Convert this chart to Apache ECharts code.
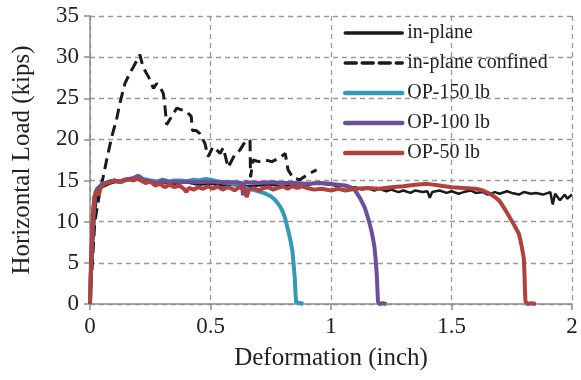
<!DOCTYPE html>
<html>
<head>
<meta charset="utf-8">
<script src="https://cdn.jsdelivr.net/npm/echarts@6/dist/echarts.min.js"></script>
<style>
  html, body { margin: 0; padding: 0; background: #fff; }
  #chart { width: 581px; height: 380px; }
</style>
</head>
<body>
<div id="chart"></div>
<script>
// [deformation (inch), horizontal load (kips)]
const inPlane = [
  [0, 0], [0.01, 6], [0.02, 11], [0.03, 13.5], [0.05, 14.2], [0.08, 14.6], [0.1, 14.8],
  [0.15, 15], [0.2, 15.2], [0.25, 15], [0.3, 14.8], [0.35, 14.6], [0.4, 14.8], [0.45, 14.5],
  [0.5, 14.6], [0.55, 14.4], [0.6, 14.5], [0.65, 14.3], [0.7, 14.4], [0.75, 14.5], [0.8, 14.3],
  [0.85, 14.5], [0.88, 14.6], [0.9, 14.4], [0.93, 14.7], [0.96, 14.6], [1.0, 14.5], [1.03, 14.3],
  [1.05, 14.4], [1.08, 14.1], [1.1, 14.2], [1.13, 13.9], [1.15, 14.1], [1.18, 13.8], [1.2, 14.0],
  [1.23, 13.7], [1.25, 13.9], [1.28, 13.6], [1.3, 13.8], [1.33, 13.5], [1.35, 13.8], [1.38, 13.6],
  [1.4, 13.7], [1.41, 12.9], [1.42, 13.6], [1.45, 13.8], [1.48, 13.5], [1.5, 13.7], [1.53, 13.4],
  [1.55, 13.6], [1.58, 13.8], [1.6, 13.5], [1.63, 13.6], [1.65, 13.3], [1.68, 13.6], [1.7, 13.4],
  [1.73, 13.7], [1.75, 13.5], [1.78, 13.3], [1.8, 13.6], [1.83, 13.4], [1.85, 13.5], [1.88, 13.3],
  [1.9, 13.5], [1.91, 13.6], [1.92, 12.1], [1.93, 13.4], [1.95, 12.6], [1.97, 13.3], [1.98, 12.8],
  [2.0, 13.3]
]

const inPlaneConfined = [
  [0, 0], [0.02, 10], [0.04, 13.5], [0.055, 15.5], [0.069, 17.5], [0.09, 20.3], [0.11, 22.4],
  [0.124, 24.4], [0.145, 26.8], [0.166, 28.1], [0.18, 28.8], [0.207, 30.3], [0.22, 28.8],
  [0.235, 28], [0.25, 27.2], [0.263, 26.2], [0.277, 26.8], [0.29, 26.4], [0.304, 25.6],
  [0.311, 24], [0.318, 21.8], [0.339, 22.8], [0.36, 23.8], [0.38, 23.6], [0.4, 23.4],
  [0.42, 22.8], [0.425, 21.1], [0.44, 21.1], [0.456, 20.7], [0.477, 19.5], [0.49, 17.9],
  [0.51, 19.1], [0.52, 18.9], [0.54, 18.3], [0.553, 19], [0.573, 16.6], [0.6, 18.1],
  [0.622, 18.7], [0.643, 19.7], [0.664, 19.9], [0.666, 15.4], [0.677, 17.5], [0.7, 17.3],
  [0.726, 17.5], [0.755, 17.3], [0.79, 17.8], [0.81, 18.3], [0.822, 16.3], [0.843, 15.3],
  [0.87, 15.1], [0.913, 15.9], [0.94, 16.3]
]

const op150 = [
  [0, 0], [0.005, 5], [0.012, 10], [0.02, 13], [0.03, 14], [0.05, 14.6], [0.08, 14.9],
  [0.1, 15], [0.13, 14.8], [0.15, 15.1], [0.18, 15.3], [0.2, 15.6], [0.22, 15.2], [0.25, 15],
  [0.28, 14.9], [0.3, 15.1], [0.33, 14.9], [0.35, 15], [0.38, 15], [0.4, 14.9], [0.43, 15.1],
  [0.45, 15], [0.48, 15.2], [0.5, 15.1], [0.53, 14.9], [0.55, 14.8], [0.58, 14.7], [0.6, 14.5],
  [0.63, 14.3], [0.66, 14.0], [0.7, 13.7], [0.73, 13.4], [0.75, 13.1], [0.77, 12.6],
  [0.79, 11.8], [0.8, 11.2], [0.81, 10.4], [0.82, 9.2], [0.83, 8], [0.84, 6.4], [0.845, 4.8],
  [0.85, 3], [0.853, 1.2], [0.855, 0.2], [0.86, 0], [0.875, 0.1], [0.885, 0]
]

const op100 = [
  [0, 0], [0.005, 5], [0.012, 10], [0.02, 13], [0.03, 14], [0.05, 14.5], [0.08, 14.8],
  [0.1, 15], [0.13, 14.9], [0.15, 15.1], [0.18, 15.3], [0.2, 15.5], [0.22, 15.1], [0.25, 14.9],
  [0.28, 14.7], [0.3, 15], [0.33, 14.8], [0.35, 14.9], [0.38, 14.8], [0.4, 14.9], [0.45, 14.8],
  [0.5, 14.9], [0.55, 14.8], [0.6, 14.8], [0.63, 14.7], [0.635, 13.2], [0.64, 14.7],
  [0.65, 14.8], [0.7, 14.7], [0.75, 14.8], [0.8, 14.7], [0.85, 14.7], [0.9, 14.6],
  [0.95, 14.7], [1.0, 14.6], [1.03, 14.5], [1.06, 14.4], [1.08, 14.2], [1.1, 13.8],
  [1.12, 12.9], [1.14, 11.7], [1.15, 10.8], [1.16, 9.8], [1.17, 8.6], [1.18, 7], [1.185, 5.5],
  [1.19, 3.5], [1.193, 1.5], [1.195, 0.3], [1.2, 0], [1.215, 0.1], [1.23, 0]
]

const op50 = [
  [0, 0], [0.005, 6], [0.012, 11], [0.018, 13], [0.025, 13.8], [0.035, 13.2], [0.045, 14.2],
  [0.06, 14.6], [0.08, 14.8], [0.1, 15], [0.12, 14.8], [0.14, 15.1], [0.16, 15.2], [0.18, 15],
  [0.2, 15.3], [0.21, 15], [0.23, 14.7], [0.25, 14.9], [0.27, 14.4], [0.29, 14.6], [0.31, 14.2],
  [0.33, 14.5], [0.35, 14.2], [0.37, 14.4], [0.39, 14.0], [0.4, 13.6], [0.41, 14.1],
  [0.43, 13.9], [0.45, 14.2], [0.47, 14.0], [0.49, 14.3], [0.51, 14.0], [0.53, 14.3],
  [0.55, 13.9], [0.57, 14.2], [0.59, 14.0], [0.6, 13.8], [0.62, 14.2], [0.64, 14.0],
  [0.65, 13.0], [0.66, 13.9], [0.68, 14.1], [0.7, 13.8], [0.72, 14.1], [0.74, 14.2],
  [0.76, 13.9], [0.78, 14.1], [0.8, 14.3], [0.82, 14.0], [0.84, 14.3], [0.86, 14.1],
  [0.88, 14.3], [0.9, 14.1], [0.93, 13.9], [0.96, 14.0], [1.0, 13.8], [1.03, 14.0],
  [1.06, 13.8], [1.1, 14.0], [1.15, 14.1], [1.2, 14.0], [1.25, 14.2], [1.3, 14.3],
  [1.35, 14.5], [1.4, 14.6], [1.45, 14.4], [1.5, 14.2], [1.55, 14.1], [1.6, 14.0],
  [1.63, 13.8], [1.66, 13.4], [1.68, 13.0], [1.7, 12.5], [1.72, 11.6], [1.74, 10.6],
  [1.76, 9.6], [1.78, 8.5], [1.79, 7.2], [1.8, 5.6], [1.803, 3.5], [1.805, 1.5],
  [1.807, 0.3], [1.815, 0], [1.83, 0.1], [1.85, 0]
]

const seriesNames = ['in-plane', 'in-plane confined', 'OP-150 lb', 'OP-100 lb', 'OP-50 lb']
const seriesData = [inPlane, inPlaneConfined, op150, op100, op50]
const seriesColors = ['#1a1a1a', '#1a1a1a', '#3399b6', '#6b4f98', '#b0413e']

const font = 'Liberation Serif'
const gridLine = { show: true, lineStyle: { color: '#999', width: 1.3, type: [5, 4] } }

const chart = echarts.init(document.getElementById('chart'))
chart.setOption({
  animation: false,
  backgroundColor: '#fff',
  grid: { left: 90, right: 9, top: 16, bottom: 76 },
  legend: {
    orient: 'vertical',
    left: 338,
    top: 18,
    itemWidth: 57,
    itemHeight: 14,
    itemGap: 10,
    itemStyle: { opacity: 0 },
    textStyle: { fontFamily: font, fontSize: 20, color: '#222' },
    data: seriesNames.map((name, i) => ({
      name,
      lineStyle: { width: i < 2 ? 3.5 : 4.5, cap: 'round' }
    }))
  },
  xAxis: {
    type: 'value',
    min: 0,
    max: 2,
    interval: 0.5,
    name: 'Deformation (inch)',
    nameLocation: 'middle',
    nameGap: 42,
    nameTextStyle: { fontFamily: font, fontSize: 25, color: '#222' },
    axisLine: { lineStyle: { color: '#8c8c8c', width: 1.5 } },
    axisTick: { show: true, length: 6, lineStyle: { color: '#8c8c8c', width: 1.5 } },
    axisLabel: { fontFamily: font, fontSize: 23, color: '#222', margin: 11 },
    splitLine: gridLine
  },
  yAxis: {
    type: 'value',
    min: 0,
    max: 35,
    interval: 5,
    name: 'Horizontal Load (kips)',
    nameLocation: 'middle',
    nameGap: 55,
    nameTextStyle: { fontFamily: font, fontSize: 25, color: '#222' },
    axisLine: { show: true, lineStyle: { color: '#8c8c8c', width: 1.5 } },
    axisTick: { show: true, length: 6, lineStyle: { color: '#8c8c8c', width: 1.5 } },
    axisLabel: { fontFamily: font, fontSize: 23, color: '#222', margin: 11 },
    splitLine: gridLine
  },
  series: seriesNames.map((name, i) => ({
    name,
    type: 'line',
    data: seriesData[i],
    symbol: 'none',
    showSymbol: false,
    color: seriesColors[i],
    lineStyle: {
      color: seriesColors[i],
      width: i === 0 ? 2.5 : (i === 1 ? 3 : 4),
      type: i === 1 ? [11, 6] : 'solid'
    },
    z: 2 + i
  }))
})
</script>
</body>
</html>
